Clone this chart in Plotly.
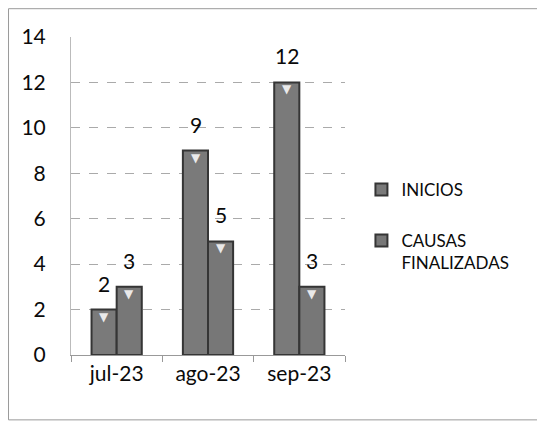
import plotly.graph_objects as go

categories = ["jul-23", "ago-23", "sep-23"]
inicios = [2, 9, 12]
causas_finalizadas = [3, 5, 3]
y_ticks = [0, 2, 4, 6, 8, 10, 12, 14]

FONT = "Lato, Open Sans, sans-serif"
EDGE = "#353535"

fig = go.Figure()
fig.add_trace(go.Bar(
    name="INICIOS", x=categories, y=inicios, legendgroup="a",
    marker=dict(color="#7a7a7a", line=dict(color=EDGE, width=2)),
))
fig.add_trace(go.Bar(
    name="CAUSAS<br>FINALIZADAS", x=categories, y=causas_finalizadas, legendgroup="b",
    marker=dict(color="#777777", line=dict(color=EDGE, width=2)),
))

annotations = []
for series, shift in ((inicios, -12.5), (causas_finalizadas, 12.5)):
    for cat, val in zip(categories, series):
        annotations.append(dict(
            x=cat, y=val, xref="x", yref="y", text=str(val), showarrow=False,
            xshift=shift, yshift=12, yanchor="bottom",
            font=dict(size=21, color="#0a0a0a", family=FONT)))
        annotations.append(dict(
            x=cat, y=val, xref="x", yref="y", text="\u25bc", showarrow=False,
            xshift=shift, yshift=-7, yanchor="middle",
            font=dict(size=12, color="rgba(255,255,255,0.85)", family="DejaVu Sans")))

fig.update_layout(
    width=537, height=414,
    margin=dict(l=63, r=200, t=29, b=67),
    paper_bgcolor="white", plot_bgcolor="white",
    barmode="group", bargap=0.45, bargroupgap=0,
    font=dict(family=FONT, color="#0a0a0a"),
    legend=dict(
        x=1.06, y=0.576, xanchor="left", yanchor="top",
        font=dict(size=17, color="#0a0a0a", family=FONT),
        tracegroupgap=26, itemwidth=30, valign="top",
        bgcolor="rgba(0,0,0,0)",
    ),
    showlegend=True,
    annotations=annotations,
    shapes=[dict(type="rect", xref="paper", yref="paper",
                 x0=-0.228, x1=1.74, y0=-0.204, y1=1.089,
                 line=dict(color="#9a9a9a", width=1))],
)
fig.update_xaxes(
    showline=True, linecolor="#999", linewidth=1,
    ticks="outside", tickson="boundaries", ticklen=6, tickcolor="#999",
    tickfont=dict(size=21, color="#0a0a0a", family=FONT),
    showgrid=False,
)
fig.update_yaxes(
    range=[0, 14], tickvals=y_ticks,
    showline=True, linecolor="#bbb", linewidth=1,
    showgrid=True, gridcolor="#aaa", griddash="dash", gridwidth=1,
    zeroline=False,
    tickfont=dict(size=21, color="#0a0a0a", family=FONT),
    ticks="", ticklabelstandoff=20,
)

fig.write_html("out.html")
